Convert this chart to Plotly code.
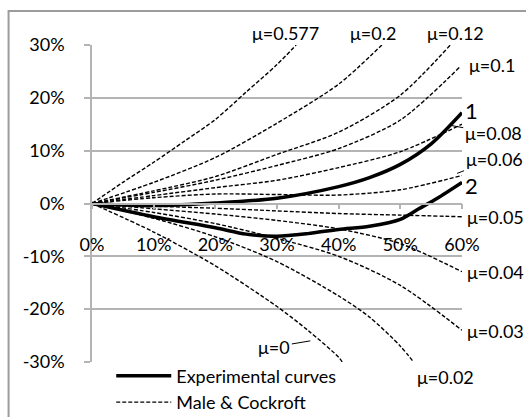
import plotly.graph_objects as go

# ---- data (deformation %, change in internal diameter %) ----
mu_labels = ["μ=0.577", "μ=0.2", "μ=0.12", "μ=0.1", "μ=0.08", "μ=0.06",
             "μ=0.05", "μ=0.04", "μ=0.03", "μ=0.02", "μ=0"]
mc_x = {
    "μ=0.577": [0, 5, 10, 15, 20, 25, 30, 33.1],
    "μ=0.2":   [0, 10, 20, 30, 40, 47],
    "μ=0.12":  [0, 10, 20, 30, 40, 50, 58.1],
    "μ=0.1":   [0, 10, 20, 30, 40, 50, 59.7],
    "μ=0.08":  [0, 10, 20, 30, 40, 50, 60],
    "μ=0.06":  [0, 10, 20, 30, 40, 50, 60],
    "μ=0.05":  [0, 10, 20, 30, 40, 50, 60],
    "μ=0.04":  [0, 10, 20, 30, 40, 50, 60],
    "μ=0.03":  [0, 10, 20, 30, 40, 50, 60],
    "μ=0.02":  [0, 10, 20, 30, 40, 45, 50, 52.4],
    "μ=0":     [0, 10, 20, 30, 35, 40, 40.8],
}
mc_y = {
    "μ=0.577": [0, 4.0, 7.8, 11.8, 15.9, 21.1, 26.3, 30],
    "μ=0.2":   [0, 4.0, 8.7, 15.2, 22.6, 30],
    "μ=0.12":  [0, 2.4, 5.1, 9.3, 13.5, 20.5, 30],
    "μ=0.1":   [0, 2.1, 4.4, 7.2, 10.4, 15.8, 25.9],
    "μ=0.08":  [0, 1.5, 3.0, 4.4, 6.8, 9.8, 15],
    "μ=0.06":  [0, 1.1, 1.8, 1.7, 1.6, 2.6, 5.3],
    "μ=0.05":  [0, -0.5, -0.9, -1.4, -1.9, -2.2, -2.5],
    "μ=0.04":  [0, -1, -2, -3.2, -4.8, -7.6, -12.9],
    "μ=0.03":  [0, -1.7, -3.8, -6.6, -10, -15.5, -24],
    "μ=0.02":  [0, -2.8, -6.3, -11, -17.5, -21.5, -27, -30.4],
    "μ=0":     [0, -5.4, -11.8, -19.5, -24, -29.1, -30.4],
}
exp1_x = [0, 5, 10, 20, 30, 40, 45, 50, 55, 60]
exp1_y = [0, -0.3, -0.4, 0.1, 1.0, 3.2, 4.9, 7.4, 11.3, 17.2]
exp2_x = [0, 10, 20, 25, 30, 35, 40, 45, 50, 53, 56, 60]
exp2_y = [0, -2.5, -4.6, -5.8, -6.2, -5.7, -4.9, -4.3, -3, -1, 1, 4]

y_ticks = [-30, -20, -10, 0, 10, 20, 30]
y_ticktext = ["-30%", "-20%", "-10%", "0%", "10%", "20%", "30%"]
x_ticks = [0, 10, 20, 30, 40, 50, 60]
x_ticktext = ["0%", "10%", "20%", "30%", "40%", "50%", "60%"]

# label anchors: (x, y, xanchor, xshift px, yshift px)
label_pos = {
    "μ=0.577": (31.3, 30, "center", 0, 12),
    "μ=0.2":   (45.6, 30, "center", 0, 12),
    "μ=0.12":  (58.9, 30, "center", 0, 12),
    "μ=0.1":   (60, 26.2, "left", 5, 0),
    "μ=0.05":  (60, -2.5, "left", 3, 0),
    "μ=0.04":  (60, -13.0, "left", 3, 0),
    "μ=0.03":  (60, -24.1, "left", 3, 0),
    "μ=0.02":  (52.4, -30, "left", 0, -15),
}
# labels joined to a curve by a leader line: (x, y, ax px, ay px)
leader_pos = {
    "μ=0.08": (58.1, 14.8, 43, 8),
    "μ=0.06": (59.2, 5.7, 37, -14),
    "μ=0":    (35.4, -26.0, -36, 6),
}
curve_numbers = {"1": 17.6, "2": 3.4}

FONT = "Lato"
GRID = "#b4b4b4"
TXT = dict(family=FONT, size=18, color="black")

fig = go.Figure()

first = True
for lab in mu_labels:
    fig.add_trace(go.Scatter(
        x=mc_x[lab], y=mc_y[lab], mode="lines",
        line=dict(color="black", width=1.4, dash="4px,2px", shape="spline", smoothing=0.8),
        name="Male & Cockroft", legendgroup="mc", showlegend=first,
        legendrank=2, hoverinfo="skip"))
    first = False

fig.add_trace(go.Scatter(x=exp1_x, y=exp1_y, mode="lines",
                         line=dict(color="black", width=3.5, shape="spline", smoothing=0.8),
                         name="Experimental curves", legendgroup="exp",
                         showlegend=True, legendrank=1))
fig.add_trace(go.Scatter(x=exp2_x, y=exp2_y, mode="lines",
                         line=dict(color="black", width=3.5, shape="spline", smoothing=0.8),
                         name="Experimental curves", legendgroup="exp",
                         showlegend=False))

ann = []
for lab, (ax_, ay_, anc, xs, ys) in label_pos.items():
    ann.append(dict(x=ax_, y=ay_, text=lab, showarrow=False, xanchor=anc,
                    yanchor="middle", xshift=xs, yshift=ys, font=TXT))
for num, yv in curve_numbers.items():
    ann.append(dict(x=60, y=yv, text=num, showarrow=False, xanchor="left",
                    yanchor="middle", xshift=1,
                    font=dict(family=FONT, size=22, color="black")))
for lab, (px_, py_, axp, ayp) in leader_pos.items():
    ann.append(dict(x=px_, y=py_, text=lab, showarrow=True, arrowhead=0, arrowwidth=1,
                    arrowcolor="black", ax=axp, ay=ayp, font=TXT))

fig.update_layout(
    width=526, height=417,
    margin=dict(l=92, r=64, t=45, b=55, autoexpand=False),
    paper_bgcolor="white", plot_bgcolor="white",
    font=TXT,
    annotations=ann,
    legend=dict(x=0.052, y=0.014, xanchor="left", yanchor="top",
                bgcolor="rgba(255,255,255,0)", font=TXT,
                tracegroupgap=0, itemwidth=55),
    shapes=[dict(type="rect", xref="paper", yref="paper",
                 x0=-0.2255, x1=2.0, y0=-1.0, y1=1.107,
                 line=dict(color="#9c9c9c", width=2), layer="below")],
)
fig.update_xaxes(range=[0, 60], tickvals=x_ticks, ticktext=x_ticktext, automargin=False,
                 showgrid=False, zeroline=False, showline=True, linecolor=GRID, linewidth=1.5,
                 ticks="outside", ticklen=5, tickcolor=GRID, tickwidth=1.5,
                 anchor="free", position=0.5, ticklabelstandoff=20, tickfont=TXT)
fig.update_yaxes(range=[-30, 30], tickvals=y_ticks, ticktext=y_ticktext, automargin=False,
                 showgrid=True, gridcolor=GRID, gridwidth=1.5, zeroline=False,
                 showline=True, linecolor=GRID, linewidth=1.5,
                 ticks="outside", ticklen=6, tickcolor=GRID, tickwidth=1.5,
                 ticklabelstandoff=16, tickfont=TXT)

fig.write_html("out.html", config={"displayModeBar": False},
               post_script="document.body.style.margin='0';document.body.style.overflow='hidden';")
